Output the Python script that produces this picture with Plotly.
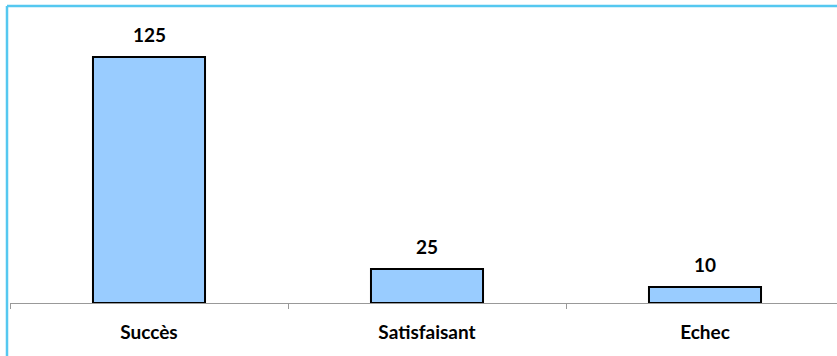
import plotly.graph_objects as go

# Data
categories = ["Succès", "Satisfaisant", "Echec"]
value_labels = [125, 25, 10]          # numbers printed above the bars
bar_heights = [125, 17.3, 8.1]        # bar heights as drawn in the reference

W, H = 837, 356
ML, MR, MT, MB = 10, 0, 30, 53
plot_w = W - ML - MR
plot_h = H - MT - MB
px_per_unit = 1.968
ymax = plot_h / px_per_unit
cat_px = 278
xmax = -0.5 + plot_w / cat_px

fig = go.Figure()
fig.add_trace(go.Bar(
    x=categories,
    y=bar_heights,
    width=0.403,
    marker=dict(color="#99CCFF", line=dict(color="black", width=2)),
    hoverinfo="skip",
))

for c, h, v in zip(categories, bar_heights, value_labels):
    fig.add_annotation(
        x=c, y=h, text=f"<b>{v}</b>", showarrow=False,
        yanchor="bottom", yshift=9,
        font=dict(family="Lato", size=19, color="black"),
    )

border = "#55C8F0"
x_left = (7 - ML) / plot_w
y_top = 1 + (MT - 6) / plot_h
y_bot = -(H - (H - MB)) / plot_h
fig.add_shape(type="line", xref="paper", yref="paper",
              x0=x_left, x1=1.01, y0=y_top, y1=y_top,
              line=dict(color=border, width=2.5))
fig.add_shape(type="line", xref="paper", yref="paper",
              x0=x_left, x1=x_left, y0=y_top, y1=y_bot - 0.05,
              line=dict(color=border, width=2.5))

fig.update_layout(
    width=W, height=H,
    margin=dict(l=ML, r=MR, t=MT, b=MB),
    paper_bgcolor="white", plot_bgcolor="white",
    showlegend=False,
    font=dict(family="Lato", size=18, color="black"),
    xaxis=dict(
        type="category", range=[-0.5, xmax],
        showline=True, linecolor="#999999", linewidth=1,
        ticks="outside", tickcolor="#999999", ticklen=5, tickwidth=1,
        tickson="boundaries", showgrid=False, zeroline=False,
        tickfont=dict(family="Lato", size=19, color="black", weight="bold"),
        ticklabelstandoff=12,
    ),
    yaxis=dict(range=[0, ymax], visible=False, showgrid=False, zeroline=False),
)

fig.write_html("out.html")
